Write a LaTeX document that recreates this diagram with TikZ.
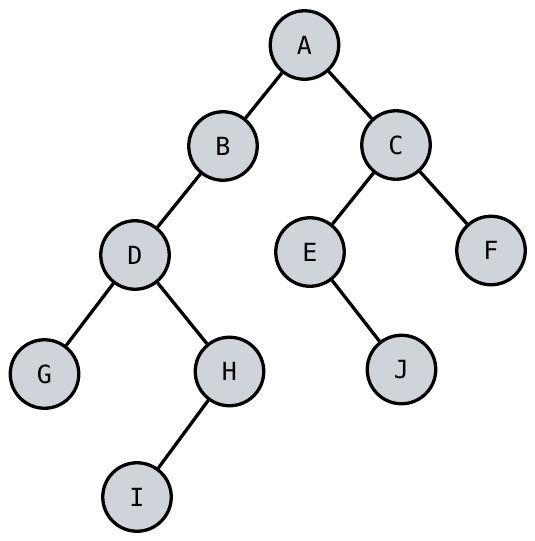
\documentclass[tikz,border=0pt]{standalone}
\usepackage{fontspec}
\setmonofont{DejaVu Sans Mono}
\definecolor{nodefill}{HTML}{CFD3DA}
\begin{document}
\begin{tikzpicture}[x=1pt,y=-1pt,
  tnode/.style={circle,draw=black,line width=3.3pt,fill=nodefill,minimum size=68.5pt,inner sep=0pt,font=\ttfamily\fontsize{25}{25}\selectfont},
  edge/.style={line width=3.3pt,draw=black}]
\useasboundingbox (0,0) rectangle (535,541);
\node[tnode] (A) at (304.5,45) {A};
\node[tnode] (B) at (223,146) {B};
\node[tnode] (C) at (396,145) {C};
\node[tnode] (D) at (135,255) {D};
\node[tnode] (E) at (310,252) {E};
\node[tnode] (F) at (491,250.5) {F};
\node[tnode] (G) at (44.5,374) {G};
\node[tnode] (H) at (229.5,371.5) {H};
\node[tnode] (J) at (401.5,369.5) {J};
\node[tnode] (I) at (137,497) {I};
\draw[edge] (A) -- (B);
\draw[edge] (A) -- (C);
\draw[edge] (B) -- (D);
\draw[edge] (C) -- (E);
\draw[edge] (C) -- (F);
\draw[edge] (D) -- (G);
\draw[edge] (D) -- (H);
\draw[edge] (E) -- (J);
\draw[edge] (H) -- (I);
\end{tikzpicture}
\end{document}
